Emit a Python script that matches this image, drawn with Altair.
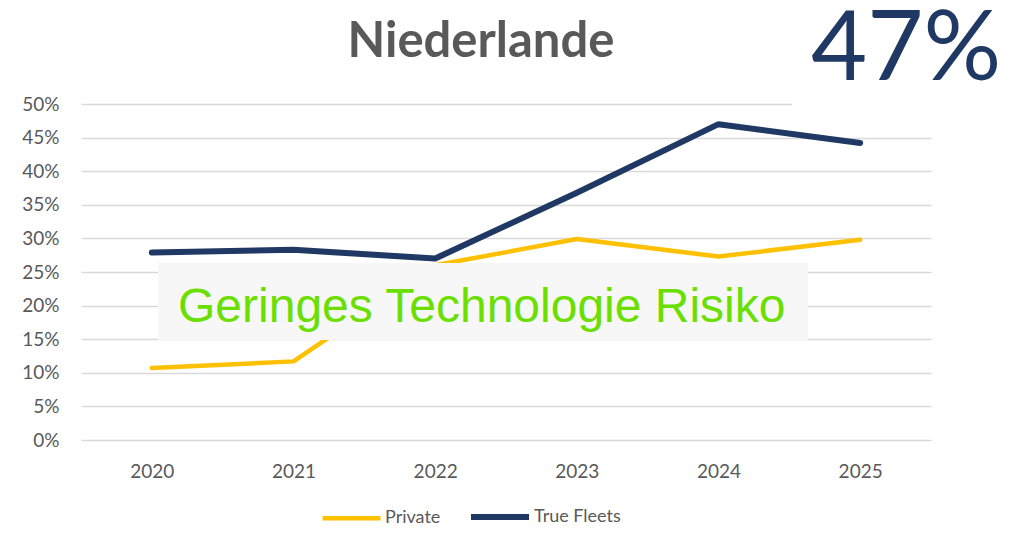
import altair as alt
import pandas as pd

years = ["2020", "2021", "2022", "2023", "2024", "2025"]
private = [0.107, 0.117, 0.260, 0.299, 0.273, 0.298]
true_fleets = [0.279, 0.283, 0.270, 0.368, 0.470, 0.442]
series_names = ["Private", "True Fleets"]
series_colors = ["#FFC000", "#203864"]
y_ticks = [0, 0.05, 0.10, 0.15, 0.20, 0.25, 0.30, 0.35, 0.40, 0.45, 0.50]

title_text = "Niederlande"
big_value = "47%"
box_text = "Geringes Technologie Risiko"

rows = []
for s, vals in zip(series_names, [private, true_fleets]):
    for yr, v in zip(years, vals):
        rows.append({"year": yr, "series": s, "value": v})
df = pd.DataFrame(rows)

W, H = 850, 336
FONT = "Lato"
GREY = "#595959"

base = alt.Chart(df)

lines = base.mark_line(strokeCap="round", strokeJoin="round").encode(
    x=alt.X("year:O", sort=years,
            scale=alt.Scale(type="point", padding=0.5),
            axis=alt.Axis(title=None, labelAngle=0, ticks=False, domain=False,
                          grid=False, labelPadding=22, labelFontSize=19,
                          labelFont=FONT, labelColor=GREY)),
    y=alt.Y("value:Q", scale=alt.Scale(domain=[0, 0.5], nice=False),
            axis=alt.Axis(title=None, values=y_ticks, format=".0%", ticks=False,
                          domain=False, gridColor="#d9d9d9", gridWidth=1.3,
                          labelPadding=22, labelFontSize=19, labelFont=FONT,
                          labelColor=GREY)),
    color=alt.Color("series:N", scale=alt.Scale(domain=series_names, range=series_colors),
                    legend=alt.Legend(title=None, orient="none", legendX=239, legendY=381,
                                      direction="horizontal", symbolType="stroke",
                                      symbolSize=3364, symbolStrokeWidth=6,
                                      labelFont=FONT, labelFontSize=18, labelColor=GREY,
                                      labelOffset=2, columnPadding=18)),
    strokeWidth=alt.StrokeWidth("series:N", scale=alt.Scale(domain=series_names, range=[4.5, 6]),
                                legend=None),
    order=alt.Order("series:N"),
)

ann = pd.DataFrame({"t": [box_text]})

box = alt.Chart(ann).mark_rect(fill="#f7f7f7").encode(
    x=alt.value(77), x2=alt.value(727), y=alt.value(159), y2=alt.value(236)
)
box_label = alt.Chart(ann).mark_text(align="left", baseline="alphabetic", font="Liberation Sans",
                                     fontSize=48, color="#6ADF00").encode(
    x=alt.value(97), y=alt.value(218), text="t:N"
)

cover = alt.Chart(ann).mark_rect(fill="white").encode(
    x=alt.value(711), x2=alt.value(926), y=alt.value(-90), y2=alt.value(3)
)
big = alt.Chart(pd.DataFrame({"t": [big_value]})).mark_text(
    align="left", baseline="alphabetic", font=FONT, fontSize=97, color="#203864"
).encode(x=alt.value(730), y=alt.value(-24), text="t:N")

title = alt.Chart(pd.DataFrame({"t": [title_text]})).mark_text(
    align="center", baseline="alphabetic", font=FONT, fontWeight="bold", fontSize=49, color=GREY
).encode(x=alt.value(400), y=alt.value(-47), text="t:N")

chart = alt.layer(lines, box, box_label, cover, big, title).properties(
    width=W, height=H,
    autosize=alt.AutoSizeParams(type="none"),
    padding={"left": 73, "top": 96, "right": 77, "bottom": 86},
).configure_view(stroke=None)

chart.save("out.html", embed_options={"renderer": "svg", "actions": False})
